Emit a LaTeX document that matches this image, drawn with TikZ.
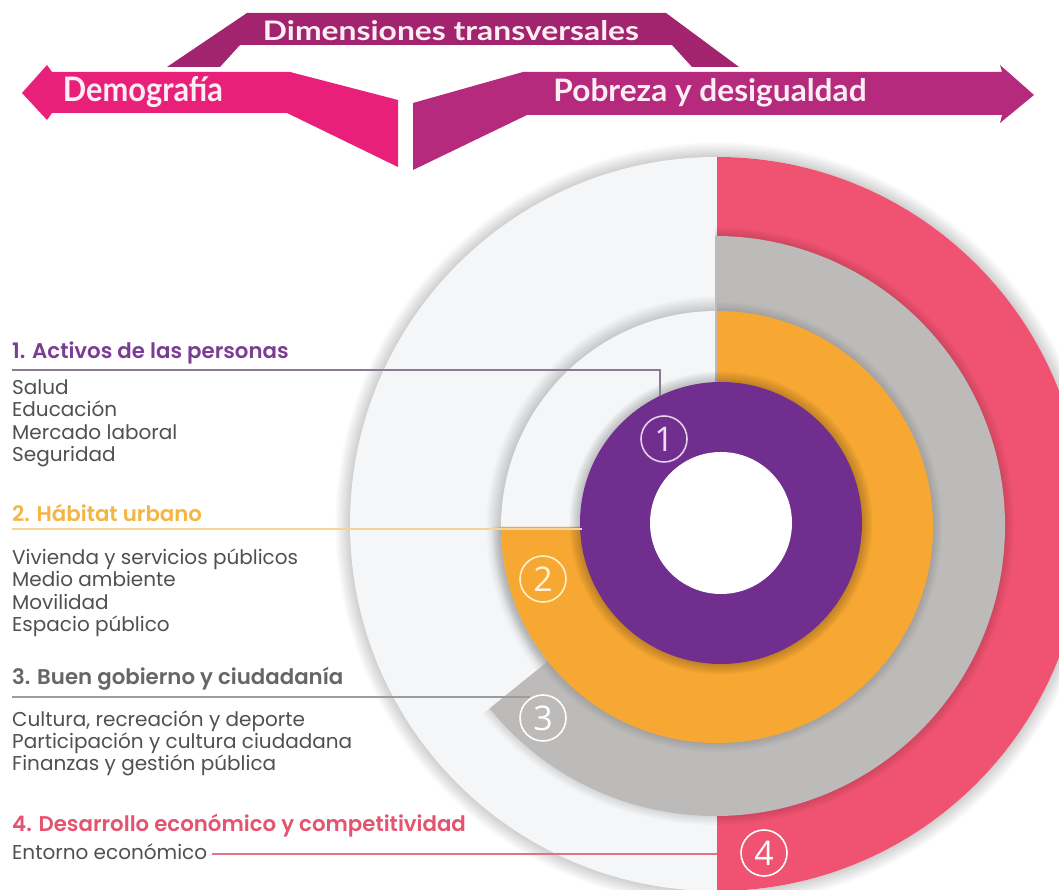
\documentclass[tikz,border=0pt]{standalone}
\usepackage{fontspec}
\usepackage{graphicx}
\setmainfont{Poppins}
\newfontfamily\titlefont{Poppins SemiBold}
\newfontfamily\headfont{Lato}
\newfontfamily\numfont{Open Sans}
\definecolor{cpurple}{HTML}{702E8F}
\definecolor{corange}{HTML}{F7A833}
\definecolor{cgray}{HTML}{BDBABA}
\definecolor{cred}{HTML}{EF5371}
\definecolor{cpale}{HTML}{F5F6F8}
\definecolor{cdemo}{HTML}{E8207A}
\definecolor{cpob}{HTML}{B52A7C}
\definecolor{ctop}{HTML}{A2246F}
\definecolor{ctext}{HTML}{505050}
\definecolor{tone}{HTML}{7B3D94}
\definecolor{ttwo}{HTML}{F4B543}
\definecolor{tthree}{HTML}{666666}
\definecolor{tfour}{HTML}{E4536F}
\definecolor{lone}{HTML}{8A7A96}
\definecolor{ltwo}{HTML}{F5D49A}
\definecolor{lthree}{HTML}{9C9C9C}
\definecolor{lfour}{HTML}{E4708A}
\definecolor{headtxt}{HTML}{FDEEF4}
\tikzset{
  body/.style={anchor=base west, inner sep=0pt, text=ctext, font=\fontsize{20}{24}\selectfont},
  title/.style={anchor=base west, inner sep=0pt, font=\titlefont\fontsize{21.3}{24}\selectfont},
  numc/.style={circle, minimum size=46pt, inner sep=0pt, line width=1.6pt, font=\numfont\fontsize{34}{34}\selectfont},
  headtext/.style={anchor=base, inner sep=0pt, text=headtxt},
  shadowlayer/.style={black, opacity=0.018}
}
\begin{document}
\begin{tikzpicture}[x=1pt,y=1pt]
\useasboundingbox (0,0) rectangle (1059,890);
\fill[white] (0,0) rectangle (1059,890);
\clip (0,0) rectangle (1059,890);
% centres
\coordinate (rc) at (717,366);
\coordinate (gc) at (715,364);
\coordinate (oc) at (717,363);
\coordinate (pc) at (721,367);
% outer pale disk
\foreach \k in {1,...,9}{\fill[shadowlayer] (rc) circle ({367+\k*1.6});}
\fill[cpale] (rc) circle (367);
% red half
\fill[cred] (rc) -- ++(90:367) arc[start angle=90,end angle=-90,radius=367] -- cycle;
% inner pale disk
\foreach \k in {1,...,9}{\fill[shadowlayer] (oc) circle ({216+\k*1.6});}
\fill[cpale] (oc) circle (216);
% gray sector
\foreach \k in {1,...,6}{\fill[shadowlayer] (gc) -- ++(-141:{290+\k*1.5}) arc[start angle=-141,end angle=90,radius={290+\k*1.5}] -- cycle;}
\fill[cgray] (gc) -- ++(-141:290) arc[start angle=-141,end angle=90,radius=290] -- cycle;
% orange sector
\foreach \k in {1,...,6}{\fill[shadowlayer] (oc) -- ++(180:{216+\k*1.5}) arc[start angle=180,end angle=450,radius={216+\k*1.5}] -- cycle;}
\fill[corange] (oc) -- ++(180:216) arc[start angle=180,end angle=450,radius=216] -- cycle;
% purple ring
\foreach \k in {1,...,7}{\fill[black,opacity=0.03] (pc) circle ({141+\k*1.5});}
\fill[cpurple] (pc) circle (141);
\fill[white] (pc) circle (71);

% connector lines
\coordinate (a1) at (12,520);
\coordinate (b1) at (660,520);
\coordinate (c1) at (660,494);
\coordinate (a2) at (12,361);
\coordinate (b2) at (582,361);
\coordinate (a3) at (12,193);
\coordinate (b3) at (530,193);
\coordinate (b4) at (717,32);
\draw[lone, line width=2pt] (a1) -- (b1) -- (c1);
\draw[ltwo, line width=2pt] (a2) -- (b2);
\draw[lthree, line width=2pt] (a3) -- (b3);

% circled numbers
\node[numc, draw={rgb,255:red,232;green,207;blue,234}, text={rgb,255:red,240;green,222;blue,242}] (n1) at (664,451) {1};
\node[numc, draw={rgb,255:red,255;green,240;blue,200}, text={rgb,255:red,255;green,244;blue,215}] (n2) at (543,311) {2};
\node[numc, draw=white, text=white] (n3) at (543,172) {3};
\node[numc, draw=white, text=white] (n4) at (764,37) {4};

% left texts
\node[title, text=tone] (t1) at (12,531) {1. Activos de las personas};
\node[body] (s11) at (12,495) {Salud};
\node[body] (s12) at (12,473) {Educación};
\node[body] (s13) at (12,450) {Mercado laboral};
\node[body] (s14) at (12,428) {Seguridad};
\node[title, text=ttwo] (t2) at (12,368) {2. Hábitat urbano};
\node[body] (s21) at (12,325) {Vivienda y servicios públicos};
\node[body] (s22) at (12,303) {Medio ambiente};
\node[body] (s23) at (12,280) {Movilidad};
\node[body] (s24) at (12,258) {Espacio público};
\node[title, text=tthree] (t3) at (12,205) {3. Buen gobierno y ciudadanía};
\node[body] (s31) at (12,163) {Cultura, recreación y deporte};
\node[body] (s32) at (12,141) {Participación y cultura ciudadana};
\node[body] (s33) at (12,119) {Finanzas y gestión pública};
\node[title, text=tfour] (t4) at (12,58) {4. Desarrollo económico y competitividad};
\node[body] (s41) at (12,30) {Entorno económico};
\coordinate (e4) at ([xshift=5pt,yshift=6pt]s41.base east);
\draw[lfour, line width=2pt] (e4) -- (e4 -| b4);

% header
\fill[ctop] (167,823) -- (247,877) -- (666,877) -- (739,823) -- (692,823) -- (672,845) -- (240,845) -- (220,823) -- cycle;
\fill[cdemo] (22,797) -- (47,825) -- (52,818) -- (290,818) -- (398,790) -- (398,723) -- (287,777) -- (52,777) -- (47,770) -- cycle;
\fill[cpob] (413,787) -- (523,818) -- (1002,818) -- (1000,825) -- (1034,795) -- (1000,767) -- (1002,775) -- (527,775) -- (413,720) -- cycle;
\node[headtext] (h0) at (451,849) {\resizebox{376pt}{20pt}{\headfont\bfseries Dimensiones transversales}};
\node[headtext] (h1) at (143,788) {\resizebox{160pt}{25pt}{\headfont\bfseries Demografía}};
\node[headtext] (h2) at (710,788) {\resizebox{313pt}{23pt}{\headfont\bfseries Pobreza y desigualdad}};
\end{tikzpicture}
\end{document}
